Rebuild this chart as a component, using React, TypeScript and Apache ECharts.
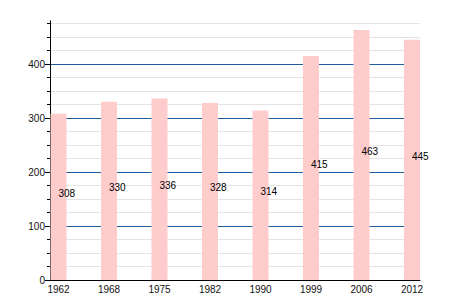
import React, { useEffect, useRef } from "react";
import * as echarts from "echarts";

const categories = ["1962", "1968", "1975", "1982", "1990", "1999", "2006", "2012"];
const populations = [308, 330, 336, 328, 314, 415, 463, 445];
const yTickValues = [0, 100, 200, 300, 400];
const yMax = 480;

const FONT = "'Liberation Sans', Arial, sans-serif";

export default function App() {
  const ref = useRef<HTMLDivElement>(null);
  useEffect(() => {
    document.body.style.margin = "0";
    if (!ref.current) return;
    const chart = echarts.init(ref.current, null, { renderer: "svg" });
    const top = 20.8;
    const bottom = 20;
    chart.setOption({
      animation: false,
      backgroundColor: "#ffffff",
      grid: [
        { left: 33.25, width: 404, top, bottom },
        { left: 50, width: 370, top, bottom },
      ],
      xAxis: [
        {
          type: "category",
          gridIndex: 0,
          data: categories,
          boundaryGap: true,
          axisLine: { show: false },
          axisTick: { show: false },
          splitLine: { show: false },
          axisLabel: { margin: 4, fontSize: 10, color: "#111", fontFamily: FONT },
        },
        {
          type: "value",
          gridIndex: 1,
          min: 0,
          max: 1,
          axisLine: { show: true, lineStyle: { color: "#000", width: 1 } },
          axisTick: { show: false },
          axisLabel: { show: false },
          splitLine: { show: false },
        },
      ],
      yAxis: [
        {
          type: "value",
          gridIndex: 0,
          min: 0,
          max: yMax,
          show: false,
          splitLine: { show: false },
        },
        {
          type: "value",
          gridIndex: 1,
          min: 0,
          max: yMax,
          interval: 100,
          axisLine: { show: true, lineStyle: { color: "#000", width: 1 } },
          axisTick: {
            show: true,
            length: 5,
            lineStyle: { color: "#000" },
            customValues: yTickValues,
          },
          minorTick: { show: true, splitNumber: 4, length: 3, lineStyle: { color: "#000" } },
          axisLabel: {
            margin: 5,
            fontSize: 10,
            color: "#111",
            fontFamily: FONT,
            customValues: yTickValues,
          },
          splitLine: {
            show: true,
            showMinLine: false,
            lineStyle: { color: "#1f5e9e", width: 1 },
          },
          minorSplitLine: { show: true, lineStyle: { color: "#e4e4e4", width: 1 } },
        },
      ],
      series: [
        {
          type: "bar",
          xAxisIndex: 0,
          yAxisIndex: 0,
          data: populations,
          barWidth: 16,
          itemStyle: { color: "#ffcccc" },
          label: {
            show: true,
            position: ["50%", "50%"],
            align: "left",
            verticalAlign: "middle",
            offset: [0, -3.6],
            fontSize: 10,
            color: "#000",
            fontFamily: FONT,
            formatter: "{c}",
          },
        },
      ],
    });
    return () => chart.dispose();
  }, []);
  return <div ref={ref} style={{ width: 450, height: 300 }} />;
}
